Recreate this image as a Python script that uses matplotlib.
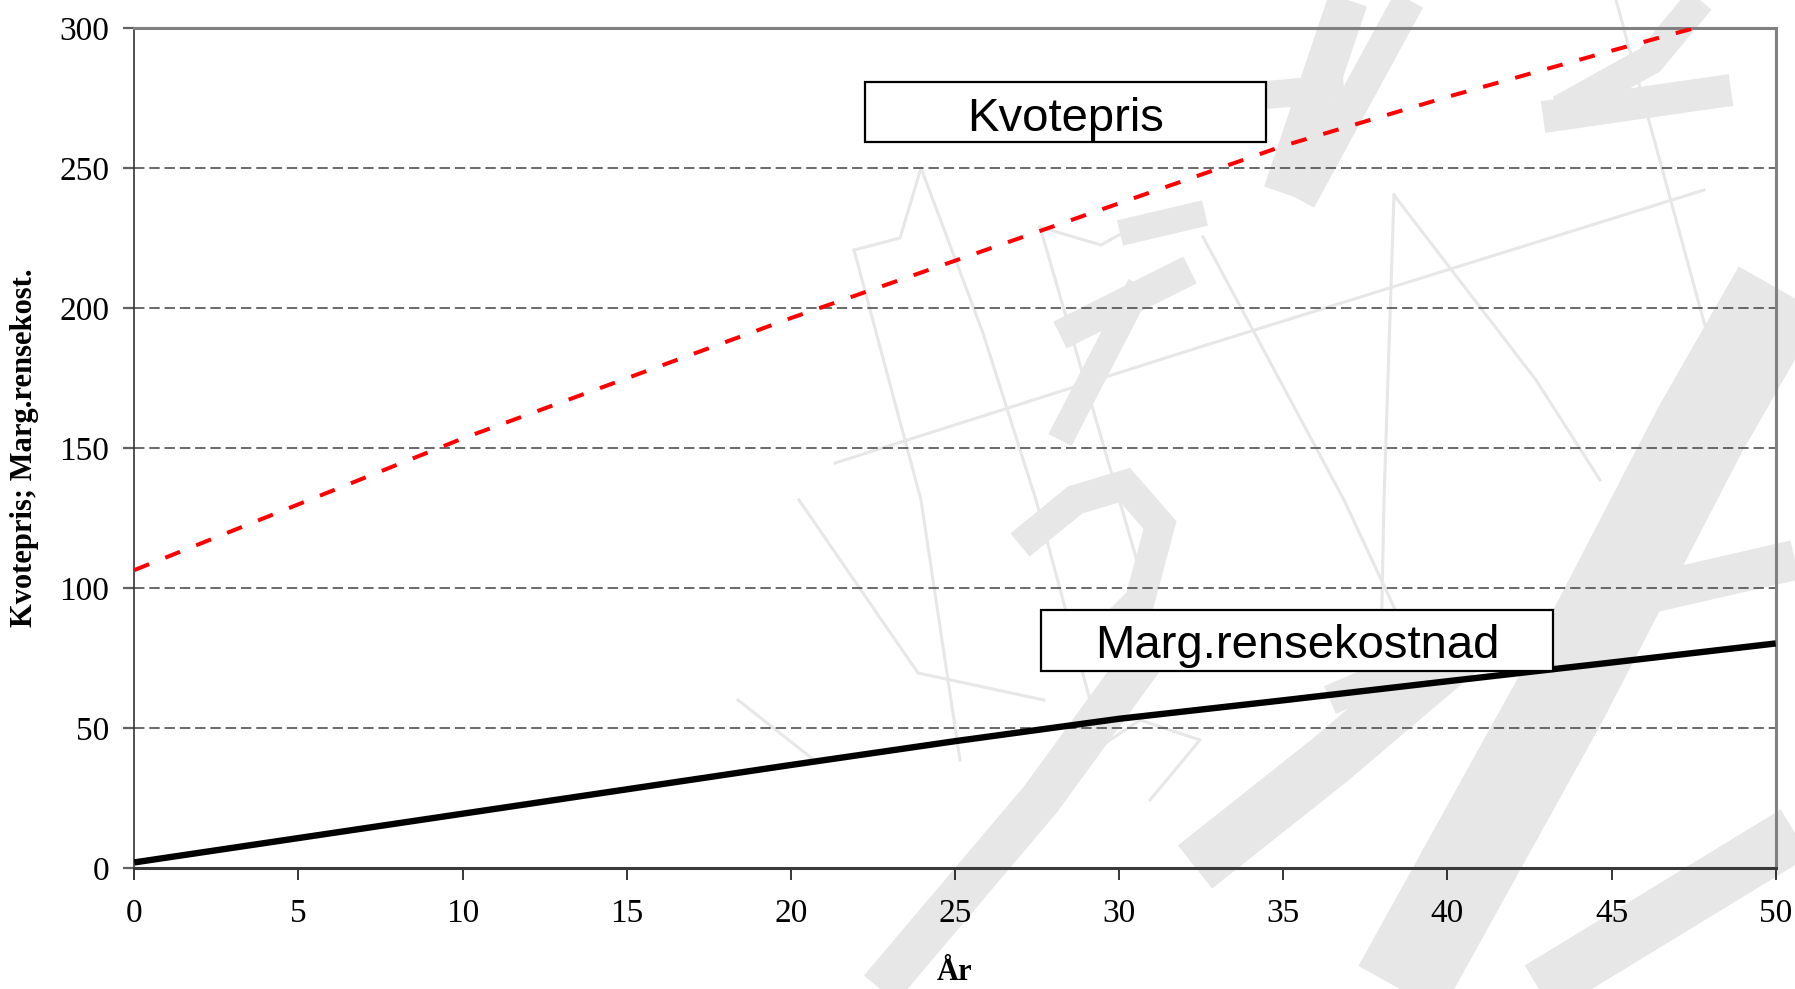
import matplotlib
matplotlib.use("Agg")
import matplotlib.pyplot as plt
from matplotlib.patches import Rectangle

plt.rcParams["lines.scale_dashes"] = False

# ---------- data ----------
years = [0, 5, 10, 15, 20, 25, 30, 35, 40, 45, 50]
kvotepris = [106.5, 130.0, 153.5, 175.0, 196.5, 217.0, 237.5, 258.0, 275.5, 292.0, 308.0]
marg_rensekost = [2.1, 10.8, 19.5, 28.2, 36.9, 45.4, 53.4, 60.0, 66.8, 73.5, 80.3]
y_ticks = [0, 50, 100, 150, 200, 250, 300]
x_ticks = [0, 5, 10, 15, 20, 25, 30, 35, 40, 45, 50]

# faint logo in the background (pixel coords, y down): (points, width px)
logo_thick = [
    ([(880, 989), (1040, 800), (1156, 641)], 42),
    ([(1020, 545), (1075, 500), (1125, 485), (1160, 525), (1140, 600), (1100, 640)], 30),
    ([(1400, 989), (1560, 700), (1700, 430), (1780, 290)], 95),
    ([(1348, 0), (1283, 193)], 40),
    ([(1210, 100), (1344, 88)], 28),
    ([(1409, 0), (1300, 200)], 32),
    ([(1120, 233), (1205, 213)], 26),
    ([(1190, 270), (1060, 335)], 30),
    ([(1140, 285), (1060, 440)], 26),
    ([(1543, 117), (1731, 90)], 32),
    ([(1560, 110), (1650, 60), (1700, 0)], 30),
    ([(1195, 867), (1330, 760), (1463, 647)], 55),
    ([(1539, 989), (1795, 833)], 55),
    ([(1620, 600), (1795, 560)], 40),
    ([(1330, 700), (1470, 640), (1620, 610)], 30),
]
logo_thin = [
    [(854, 250), (900, 238), (921, 168), (983, 333), (1036, 500), (1090, 700)],
    [(854, 250), (921, 500), (960, 760)],
    [(1040, 227), (1101, 245), (1140, 223)],
    [(1040, 227), (1160, 640)],
    [(835, 463), (1200, 347), (1704, 190)],
    [(1616, 0), (1719, 377)],
    [(1203, 237), (1344, 500), (1400, 620)],
    [(1394, 195), (1384, 500), (1380, 700)],
    [(1394, 195), (1536, 380), (1600, 480)],
    [(799, 500), (918, 673), (1044, 700)],
    [(738, 700), (814, 760)],
    [(1080, 760), (1140, 720), (1200, 740), (1150, 800)],
]

W, H = 1795, 989
fig = plt.figure(figsize=(W / 100, H / 100), dpi=100)

# background logo
bg = fig.add_axes([0, 0, 1, 1], zorder=-1)
bg.set_xlim(0, W)
bg.set_ylim(H, 0)
bg.axis("off")
wm = "#e7e7e7"
for pts, w in logo_thick:
    xs, ys = zip(*pts)
    bg.plot(xs, ys, color=wm, lw=w * 0.72, solid_capstyle="butt", solid_joinstyle="miter")
for pts in logo_thin:
    xs, ys = zip(*pts)
    bg.plot(xs, ys, color=wm, lw=2.2)

# main axes
left, right, top, bottom = 134.3, 1775.7, 28.3, 868.3
ax = fig.add_axes([left / W, (H - bottom) / H, (right - left) / W, (bottom - top) / H])
ax.set_facecolor("none")
ax.set_xlim(0, 50)
ax.set_ylim(0, 300)
ax.set_xticks(x_ticks)
ax.set_yticks(y_ticks)
ax.set_axisbelow(True)
ax.yaxis.grid(True, color="#505050", lw=1.2, linestyle=(0, (7.5, 3.5)))

ax.plot(years, marg_rensekost, color="black", lw=4.6, solid_capstyle="butt", zorder=3)
ax.plot(years, kvotepris, color="#ff0000", lw=2.9, linestyle=(0, (11.5, 12.5)),
        dash_capstyle="butt", zorder=3)

for s in ("top", "right"):
    ax.spines[s].set_color("#808080")
    ax.spines[s].set_linewidth(2.2)
ax.spines["left"].set_color("#333333")
ax.spines["left"].set_linewidth(1.2)
ax.spines["bottom"].set_color("#3a3a3a")
ax.spines["bottom"].set_linewidth(2.2)

serif = ["Liberation Serif", "DejaVu Serif"]
ax.tick_params(axis="x", direction="out", length=8.5, width=1.1, color="black",
               labelsize=24, pad=13)
ax.tick_params(axis="y", direction="out", length=8, width=1.6, color="#606060",
               labelsize=24, pad=10)
for lab in ax.get_xticklabels() + ax.get_yticklabels():
    lab.set_fontfamily(serif)

# text boxes
def label_box(x0, x1, y0, y1, text, xc, yb):
    ax.add_patch(Rectangle((x0, y0), x1 - x0, y1 - y0, fc="white", ec="black",
                           lw=1.6, zorder=4))
    ax.text(xc, yb, text, ha="center", va="baseline", fontsize=34,
            family=["Liberation Sans", "DejaVu Sans"], zorder=5)

label_box(22.26, 34.46, 259.3, 280.9, "Kvotepris", 28.36, 263.4)
label_box(27.61, 43.23, 70.57, 92.25, "Marg.rensekostnad", 35.42, 75.0)

fig.text(25 / W, 1 - 448 / H, "Kvotepris; Marg.rensekost.", rotation=90,
         ha="center", va="center", fontsize=22, fontweight="bold", family=serif)
fig.text(955 / W, 1 - 972 / H, "År", ha="center", va="center",
         fontsize=22, fontweight="bold", family=serif)

fig.savefig("out.png", dpi=100)
